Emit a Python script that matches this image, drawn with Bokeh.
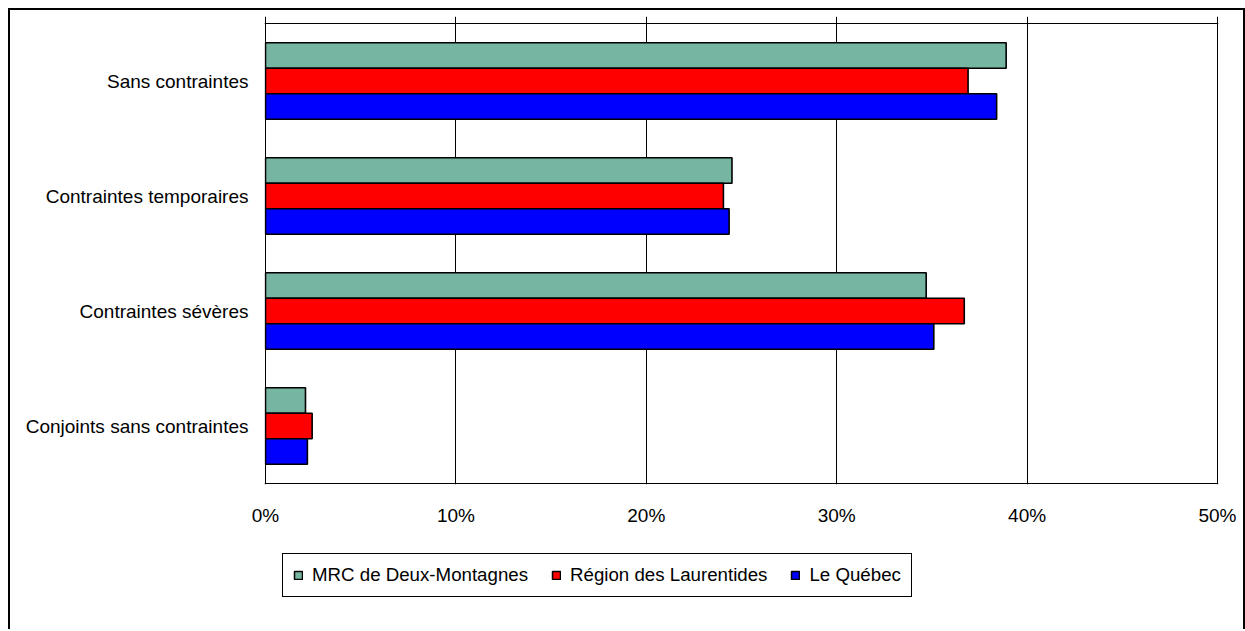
import numpy as np
from bokeh.plotting import figure
from bokeh.layouts import column
from bokeh.models import (Range1d, FixedTicker, PrintfTickFormatter, Span,
                          Legend, LegendItem, ColumnDataSource)
from bokeh.transform import dodge
from bokeh.embed import file_html
from bokeh.resources import INLINE

categories = ["Sans contraintes", "Contraintes temporaires",
              "Contraintes sévères", "Conjoints sans contraintes"]
series_names = ["MRC de Deux-Montagnes", "Région des Laurentides", "Le Québec"]
mrc = [38.9, 24.5, 34.7, 2.1]
region = [36.9, 24.05, 36.7, 2.45]
quebec = [38.4, 24.35, 35.1, 2.2]
x_ticks = [0, 10, 20, 30, 40, 50]

colors = ["#76B5A2", "#FF0000", "#0000FF"]
FONT = "Liberation Sans"
FS = "19px"
LFS = "18.7px"

n = len(categories)
ypos = [n - 0.5 - i for i in range(n)]
src = ColumnDataSource(dict(cat=categories, y=ypos, mrc=mrc, region=region, quebec=quebec))

# layout in pixels: 459 px for the categories, 952 px for 0..50 %,
# 7 px above for outward tick marks, 1 px of slack on the other sides
cat_area_h = 459
val_area_w = 952
ypp = n / cat_area_h          # data units per pixel (y)
xpp = 50 / val_area_w         # data units per pixel (x)

p = figure(width=1233, height=532,
           y_range=Range1d(-ypp, n + 7 * ypp),
           x_range=Range1d(-xpp, 50 + xpp),
           output_backend="svg", toolbar_location=None,
           min_border_left=254, min_border_right=25,
           min_border_top=6, min_border_bottom=58)

bw = 0.222
renderers = []
for field, off, col in zip(["mrc", "region", "quebec"], [bw, 0, -bw], colors):
    r = p.hbar(y=dodge("y", off), left=0, right=field,
               height=bw, fill_color=col, line_color="black", line_width=1.6,
               source=src)
    renderers.append(r)

xa = p.xaxis[0]
xa.ticker = FixedTicker(ticks=x_ticks)
xa.formatter = PrintfTickFormatter(format="%d%%")
xa.axis_line_color = None
xa.major_tick_line_color = None
xa.minor_tick_line_color = None
xa.major_tick_out = 0
xa.major_tick_in = 0
xa.major_label_standoff = 20
xa.major_label_text_font = FONT
xa.major_label_text_font_size = FS
xa.major_label_text_color = "black"

ya = p.yaxis[0]
ya.ticker = FixedTicker(ticks=ypos)
ya.major_label_overrides = {y: c for y, c in zip(ypos, categories)}
ya.axis_line_color = None
ya.major_tick_line_color = None
ya.minor_tick_line_color = None
ya.major_tick_out = 0
ya.major_tick_in = 0
ya.major_label_standoff = 16
ya.major_label_text_font = FONT
ya.major_label_text_font_size = FS
ya.major_label_text_color = "black"

p.xgrid.ticker = FixedTicker(ticks=x_ticks)
p.xgrid.grid_line_color = "black"
p.xgrid.grid_line_width = 1
p.ygrid.visible = False
p.outline_line_color = None

p.add_layout(Span(location=n, dimension="width", line_color="black", line_width=1))
p.add_layout(Span(location=0, dimension="width", line_color="black", line_width=1))

# legend panel (separate figure below the chart)
p2 = figure(width=1233, height=87, output_backend="svg", toolbar_location=None,
            x_range=Range1d(0, 1), y_range=Range1d(0, 1),
            x_axis_location=None, y_axis_location=None,
            min_border_left=0, min_border_right=0, min_border_top=0, min_border_bottom=0)
p2.outline_line_color = None
p2.grid.grid_line_color = None
proxies = []
for col in colors:
    proxies.append(p2.hbar(y=np.array([np.nan]), right=np.array([np.nan]), left=0,
                           height=bw, fill_color=col, line_color="black", line_width=1.5))

legend = Legend(items=[LegendItem(label=s, renderers=[r]) for s, r in zip(series_names, proxies)],
                orientation="horizontal", location=(18, 32),
                border_line_color="black", border_line_width=1, border_line_alpha=1,
                background_fill_color="white", background_fill_alpha=1,
                label_text_font=FONT, label_text_font_size=LFS, label_text_color="black",
                glyph_width=10, glyph_height=10, label_standoff=9,
                spacing=23, padding=10, margin=0)
p2.add_layout(legend)

layout = column(p, p2, spacing=0,
                styles={"margin-left": "8px", "margin-top": "8px",
                        "border-top": "2px solid black",
                        "border-left": "2px solid black",
                        "border-right": "2px solid black"})

open("out.html", "w").write(file_html(layout, INLINE))
